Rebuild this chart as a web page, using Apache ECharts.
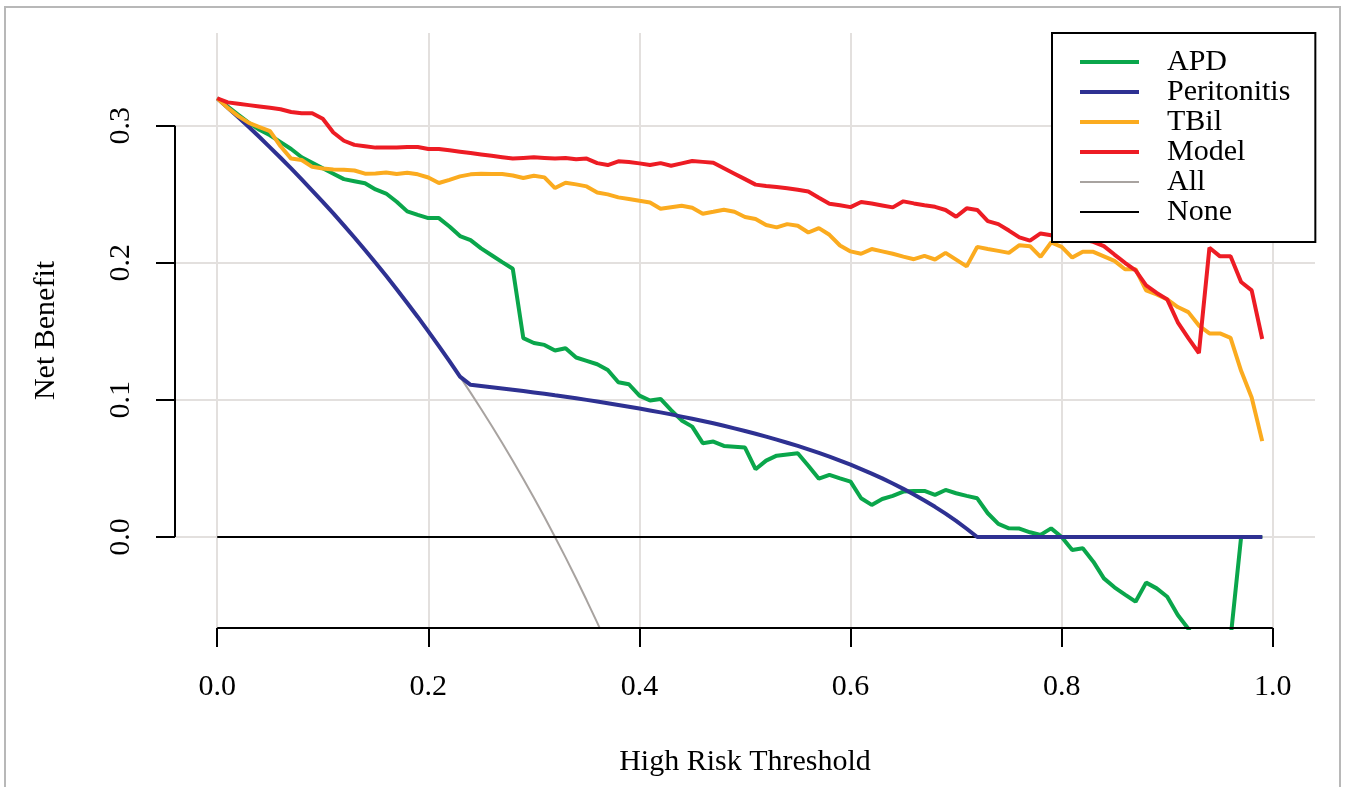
<!DOCTYPE html>
<html>
<head>
<meta charset="utf-8">
<title>Decision curve</title>
<script src="https://cdn.jsdelivr.net/npm/echarts@6/dist/echarts.min.js"></script>
<style>
html, body { margin: 0; padding: 0; background: #fff; }
#main { width: 1346px; height: 787px; }
</style>
</head>
<body>
<div id="main"></div>
<script>
// thresholds (x)
var thresholds = [0, 0.01, 0.02, 0.03, 0.04, 0.05, 0.06, 0.07, 0.08, 0.09,
    0.10, 0.11, 0.12, 0.13, 0.14, 0.15, 0.16, 0.17, 0.18, 0.19,
    0.20, 0.21, 0.22, 0.23, 0.24, 0.25, 0.26, 0.27, 0.28, 0.29,
    0.30, 0.31, 0.32, 0.33, 0.34, 0.35, 0.36, 0.37, 0.38, 0.39,
    0.40, 0.41, 0.42, 0.43, 0.44, 0.45, 0.46, 0.47, 0.48, 0.49,
    0.50, 0.51, 0.52, 0.53, 0.54, 0.55, 0.56, 0.57, 0.58, 0.59,
    0.60, 0.61, 0.62, 0.63, 0.64, 0.65, 0.66, 0.67, 0.68, 0.69,
    0.70, 0.71, 0.72, 0.73, 0.74, 0.75, 0.76, 0.77, 0.78, 0.79,
    0.80, 0.81, 0.82, 0.83, 0.84, 0.85, 0.86, 0.87, 0.88, 0.89,
    0.90, 0.91, 0.92, 0.93, 0.94, 0.95, 0.96, 0.97, 0.98, 0.99];

var apdNB = [0.320, 0.314, 0.308, 0.302, 0.297, 0.293, 0.288, 0.283, 0.277, 0.273,
    0.269, 0.265, 0.261, 0.2595, 0.258, 0.2535, 0.2505, 0.2445, 0.2375, 0.235,
    0.2326, 0.2326, 0.2265, 0.2195, 0.2165, 0.2105, 0.2055, 0.2005, 0.1956, 0.145,
    0.1415, 0.1401, 0.136, 0.1377, 0.1309, 0.1285, 0.126, 0.1218, 0.1129, 0.1114,
    0.1031, 0.0995, 0.1007, 0.0925, 0.085, 0.0805, 0.0684, 0.0696, 0.0664, 0.0658,
    0.0652, 0.0494, 0.0557, 0.0593, 0.0602, 0.0611, 0.052, 0.0425, 0.0453, 0.0428,
    0.0404, 0.0282, 0.0234, 0.0277, 0.030, 0.0331, 0.0336, 0.0336, 0.0307, 0.0343,
    0.0319, 0.030, 0.0282, 0.0173, 0.0095, 0.0063, 0.0061, 0.0034, 0.0015, 0.0063,
    0.0, -0.0095, -0.0083, -0.018, -0.0302, -0.0367, -0.042, -0.0472, -0.0333, -0.0375,
    -0.0436, -0.0569, -0.067, -0.08, -0.09, -0.085, -0.074, 0, 0, 0];

var peritonitisNB = [0.320, 0.3131, 0.3061, 0.2990, 0.2917, 0.2842, 0.2766, 0.2688, 0.2609, 0.2527,
    0.2444, 0.2360, 0.2273, 0.2184, 0.2093, 0.2000, 0.1905, 0.1807, 0.1707, 0.1605,
    0.1500, 0.1392, 0.1282, 0.1169, 0.1110, 0.1101, 0.1092, 0.1083, 0.1074, 0.1064,
    0.1054, 0.1044, 0.1033, 0.1023, 0.1012, 0.1000, 0.0988, 0.0976, 0.0963, 0.0950,
    0.0937, 0.0923, 0.0909, 0.0894, 0.0878, 0.0862, 0.0846, 0.0829, 0.0811, 0.0792,
    0.0773, 0.0753, 0.0732, 0.0710, 0.0687, 0.0664, 0.0639, 0.0613, 0.0586, 0.0557,
    0.0527, 0.0495, 0.0462, 0.0427, 0.0390, 0.0351, 0.0310, 0.0266, 0.0220, 0.0170,
    0.0117, 0.0060, 0, 0, 0, 0, 0, 0, 0, 0,
    0, 0, 0, 0, 0, 0, 0, 0, 0, 0,
    0, 0, 0, 0, 0, 0, 0, 0, 0, 0];

var tbilNB = [0.320, 0.313, 0.307, 0.302, 0.299, 0.296, 0.285, 0.276, 0.275, 0.270,
    0.2688, 0.268, 0.2678, 0.2673, 0.265, 0.2652, 0.2659, 0.2647, 0.2657, 0.2645,
    0.2622, 0.2582, 0.2605, 0.263, 0.2645, 0.265, 0.2648, 0.2647, 0.2637, 0.2618,
    0.2635, 0.2623, 0.2545, 0.2584, 0.2572, 0.2557, 0.2513, 0.2499, 0.2477, 0.2465,
    0.2452, 0.244, 0.2394, 0.2405, 0.2416, 0.2401, 0.2358, 0.2372, 0.2387, 0.2372,
    0.2334, 0.2319, 0.2275, 0.2258, 0.2282, 0.227, 0.2221, 0.2253, 0.2204, 0.2126,
    0.2083, 0.2066, 0.21, 0.2083, 0.2066, 0.2045, 0.2026, 0.205, 0.2024, 0.2072,
    0.2023, 0.1974, 0.2116, 0.2101, 0.2087, 0.2072, 0.2128, 0.2121, 0.2043, 0.2148,
    0.2116, 0.2038, 0.208, 0.208, 0.2047, 0.2014, 0.1953, 0.1953, 0.1799, 0.1769,
    0.1733, 0.1677, 0.164, 0.1542, 0.1485, 0.1485, 0.1452, 0.1212, 0.1017, 0.0699];

var modelNB = [0.320, 0.317, 0.316, 0.315, 0.314, 0.313, 0.312, 0.310, 0.309, 0.309,
    0.305, 0.295, 0.289, 0.286, 0.285, 0.284, 0.284, 0.284, 0.2845, 0.2845,
    0.283, 0.283, 0.282, 0.281, 0.280, 0.279, 0.278, 0.277, 0.276, 0.2765,
    0.277, 0.2765, 0.276, 0.2764, 0.2755, 0.276, 0.2727, 0.2713, 0.274, 0.2735,
    0.2725, 0.2713, 0.2727, 0.2708, 0.2725, 0.2742, 0.2736, 0.273, 0.269, 0.265,
    0.261, 0.257, 0.256, 0.2552, 0.2543, 0.2532, 0.252, 0.2475, 0.2431, 0.242,
    0.2406, 0.2443, 0.2432, 0.2418, 0.2404, 0.2448, 0.2433, 0.242, 0.2408, 0.2385,
    0.2336, 0.2397, 0.2385, 0.2304, 0.2282, 0.2235, 0.2185, 0.2161, 0.2214, 0.2201,
    0.218, 0.218, 0.217, 0.2153, 0.2121, 0.206, 0.200, 0.1945, 0.1835, 0.178,
    0.1733, 0.1566, 0.145, 0.1342, 0.211, 0.2047, 0.2047, 0.186, 0.1799, 0.1444];

// treat all (only the visible part, the rest drops below the plot)
var allNB = [0.320, 0.3131, 0.3061, 0.2990, 0.2917, 0.2842, 0.2766, 0.2688, 0.2609, 0.2527,
    0.2444, 0.2360, 0.2273, 0.2184, 0.2093, 0.2000, 0.1905, 0.1807, 0.1707, 0.1605,
    0.1500, 0.1392, 0.1282, 0.1169, 0.1053, 0.0933, 0.0811, 0.0685, 0.0556, 0.0423,
    0.0286, 0.0145, 0.0000, -0.0149, -0.0303, -0.0462, -0.0625, -0.0794, -0.0968, -0.1148,
    -0.1333];

var noneNB = [0, 0, 0, 0, 0, 0, 0, 0, 0, 0, 0, 0, 0, 0, 0, 0, 0, 0, 0, 0,
    0, 0, 0, 0, 0, 0, 0, 0, 0, 0, 0, 0, 0, 0, 0, 0, 0, 0, 0, 0,
    0, 0, 0, 0, 0, 0, 0, 0, 0, 0, 0, 0, 0, 0, 0, 0, 0, 0, 0, 0,
    0, 0, 0, 0, 0, 0, 0, 0, 0, 0, 0, 0, 0, 0, 0, 0, 0, 0, 0, 0,
    0, 0, 0, 0, 0, 0, 0, 0, 0, 0, 0, 0, 0, 0, 0, 0, 0, 0, 0, 0];

var xTicks = [0, 0.2, 0.4, 0.6, 0.8, 1.0];
var yTicks = [0, 0.1, 0.2, 0.3];
var legendNames = ['APD', 'Peritonitis', 'TBil', 'Model', 'All', 'None'];

var xMin = -0.04, xMax = 1.04;
var yMin = -0.0664, yMax = 0.3676;
var font = "'Liberation Serif', 'DejaVu Serif', serif";

function pairs(vals) {
    var out = [];
    for (var i = 0; i < vals.length; i++) {
        out.push([thresholds[i], vals[i]]);
    }
    return out;
}

function curve(name, vals, color, width, z) {
    return {
        name: name,
        type: 'line',
        data: pairs(vals),
        symbol: 'none',
        showSymbol: false,
        lineStyle: { color: color, width: width },
        itemStyle: { color: color },
        emphasis: { disabled: true },
        z: z
    };
}

var myChart = echarts.init(document.getElementById('main'));

var noneSeries = curve('None', noneNB, '#000000', 2, 1);
noneSeries.clip = false;
// R style axis lines: only across the tick range
noneSeries.markLine = {
    silent: true,
    symbol: ['none', 'none'],
    label: { show: false },
    lineStyle: { color: '#000', width: 2, type: 'solid' },
    data: [
        [{ coord: [0, yMin] }, { coord: [1, yMin] }],
        [{ coord: [xMin, 0] }, { coord: [xMin, 0.3] }]
    ]
};

myChart.setOption({
    animation: false,
    backgroundColor: '#fff',
    grid: { left: 175, right: 31, top: 33, bottom: 159 },
    xAxis: {
        type: 'value',
        min: xMin,
        max: xMax,
        axisLine: { show: false, onZero: false },
        axisTick: { customValues: xTicks, length: 19, lineStyle: { color: '#000', width: 2 } },
        axisLabel: {
            customValues: xTicks,
            formatter: function (v) { return v.toFixed(1); },
            margin: 44,
            fontSize: 30,
            fontFamily: font,
            color: '#000'
        },
        splitLine: { show: true, lineStyle: { color: '#e3e0de', width: 2 } },
        name: 'High Risk Threshold',
        nameLocation: 'middle',
        nameGap: 119,
        nameTextStyle: { fontSize: 30, fontFamily: font, color: '#000' }
    },
    yAxis: {
        type: 'value',
        min: yMin,
        max: yMax,
        axisLine: { show: false, onZero: false },
        axisTick: { customValues: yTicks, length: 19, lineStyle: { color: '#000', width: 2 } },
        axisLabel: {
            customValues: yTicks,
            formatter: function (v) { return v.toFixed(1); },
            rotate: 90,
            margin: 39,
            fontSize: 30,
            fontFamily: font,
            color: '#000'
        },
        splitLine: { show: true, lineStyle: { color: '#e3e0de', width: 2 } },
        name: 'Net Benefit',
        nameLocation: 'middle',
        nameGap: 114,
        nameTextStyle: { fontSize: 30, fontFamily: font, color: '#000' }
    },
    legend: {
        data: legendNames,
        orient: 'vertical',
        left: 1052,
        top: 33,
        padding: [14, 25, 15, 26],
        itemWidth: 59,
        itemHeight: 14,
        itemGap: 0,
        selectedMode: false,
        backgroundColor: '#fff',
        borderColor: '#000',
        borderWidth: 2,
        itemStyle: { opacity: 0 },
        lineStyle: { width: 'inherit' },
        textStyle: {
            fontSize: 30,
            fontFamily: font,
            color: '#000',
            lineHeight: 29.3,
            padding: [0, 0, 0, 23]
        }
    },
    graphic: [{
        type: 'rect',
        silent: true,
        z: -10,
        shape: { x: 5, y: 7, width: 1335, height: 800 },
        style: { fill: 'none', stroke: '#b8b8b8', lineWidth: 2 }
    }],
    series: [
        curve('APD', apdNB, '#0aa64b', 4, 3),
        curve('Peritonitis', peritonitisNB, '#2e3192', 4, 3),
        curve('TBil', tbilNB, '#fbab1f', 4, 3),
        curve('Model', modelNB, '#ed1c24', 4, 3),
        curve('All', allNB, '#a8a3a0', 2, 1),
        noneSeries
    ]
});
</script>
</body>
</html>
